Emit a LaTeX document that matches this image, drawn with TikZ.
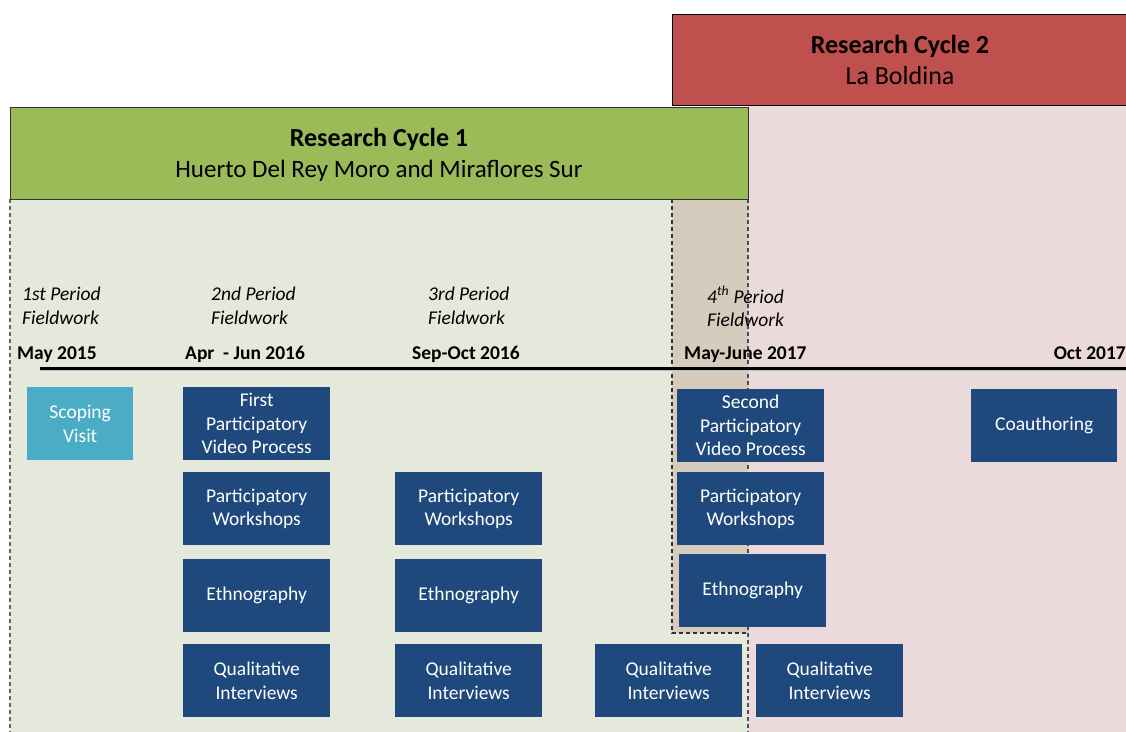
\documentclass[tikz,border=0pt]{standalone}
\usepackage{fontspec}
\setmainfont{Carlito}
\usetikzlibrary{positioning}
\newcommand{\BOXW}{147}
\newcommand{\BOXH}{73}
\newcommand{\TXTSIZE}{\fontsize{19.5}{23.5}\selectfont}
\definecolor{cyclered}{RGB}{192,80,77}
\definecolor{cyclegreen}{RGB}{155,187,89}
\definecolor{lightgreen}{RGB}{229,233,219}
\definecolor{lightpink}{RGB}{234,218,219}
\definecolor{overlaptan}{RGB}{214,204,189}
\definecolor{taskblue}{RGB}{31,73,125}
\definecolor{scopeblue}{RGB}{75,172,198}

\tikzset{
	task/.style={fill=taskblue, text=white, minimum width=\BOXW pt, minimum height=\BOXH pt,
		inner sep=2pt, align=center, anchor=north west, font=\TXTSIZE},
	period/.style={anchor=north west, align=left, inner sep=0pt, font=\TXTSIZE\itshape},
	datelabel/.style={anchor=base west, inner sep=0pt, font=\TXTSIZE\bfseries},
	header/.style={align=center, font=\fontsize{26}{31}\selectfont},
	border/.style={dashed, dash pattern=on 4pt off 3pt, line width=1.2pt},
}

\begin{document}
\begin{tikzpicture}[x=1pt,y=-1pt]
	\useasboundingbox (0,0) rectangle (1126,731);

	%% backgrounds of the two cycles
	\fill[lightpink] (748,105) rectangle (1130,735);
	\fill[lightgreen] (10,199) rectangle (748,735);
	\fill[overlaptan] (672,199) rectangle (748,633);

	\draw[border, color=black!60] (10,199) -- (10,735);
	\draw[border, color=black!70] (748,199) -- (748,735);
	\draw[border, color=black!80] (672,199) -- (672,633) -- (748,633);

	%% headers
	\draw[fill=cyclered, line width=1pt] (672,14) rectangle (1132,105);
	\draw[fill=cyclegreen, line width=1pt, draw=black!80] (10,107) rectangle (748,199);
	\node[header] (cycle2) at (900,60) {\textbf{Research Cycle 2}\\La Boldina};
	\node[header] (cycle1) at (379,155) {\textbf{Research Cycle 1}\\{\fontsize{25}{31}\selectfont Huerto Del Rey Moro and Miraflores Sur}};

	%% timeline
	\coordinate (tstart) at (40,368);
	\coordinate (tend) at (1130,368);
	\draw[black!25, line width=2pt] ([yshift=-2pt]tstart) -- ([yshift=-2pt]tend);
	\draw[line width=3pt] (tstart) -- (tend);

	\node[period] (p1) at (22,287) {1st Period\\Fieldwork};
	\node[period] (p2) at (211,287) {2nd Period\\Fieldwork};
	\node[period] (p3) at (428,287) {3rd Period\\Fieldwork};
	\node[period] (p4) at (707,286) {4\textsuperscript{th} Period\\Fieldwork};

	\node[datelabel] (d1) at (17,359) {May 2015};
	\node[datelabel] (d2) at (185,359) {Apr\ \ - Jun 2016};
	\node[datelabel] (d3) at (412,359) {Sep-Oct 2016};
	\node[datelabel] (d4) at (684,359) {May-June 2017};
	\node[datelabel, anchor=base east] (d5) at (1126,359) {Oct 2017};

	%% activities
	\node[task, fill=scopeblue, minimum width=106pt] (scoping) at (27,387) {Scoping\\Visit};

	\node[task] (video1) at (183,387) {First\\Participatory\\Video Process};
	\node[task] (work1) at (183,472) {Participatory\\Workshops};
	\node[task] (ethno1) at (183,559) {Ethnography};
	\node[task] (inter1) at (183,644) {Qualitative\\Interviews};

	\node[task] (work2) at (395,472) {Participatory\\Workshops};
	\node[task] (ethno2) at (395,559) {Ethnography};
	\node[task] (inter2) at (395,644) {Qualitative\\Interviews};

	\node[task] (inter3) at (595,644) {Qualitative\\Interviews};

	\node[task] (video2) at (677,389) {Second\\Participatory\\Video Process};
	\node[task] (work3) at (677,472) {Participatory\\Workshops};
	\node[task] (ethno3) at (679,554) {Ethnography};
	\node[task] (inter4) at (756,644) {Qualitative\\Interviews};

	\node[task, minimum width=146pt] (coauthor) at (971,389) {Coauthoring};

\end{tikzpicture}
\end{document}
